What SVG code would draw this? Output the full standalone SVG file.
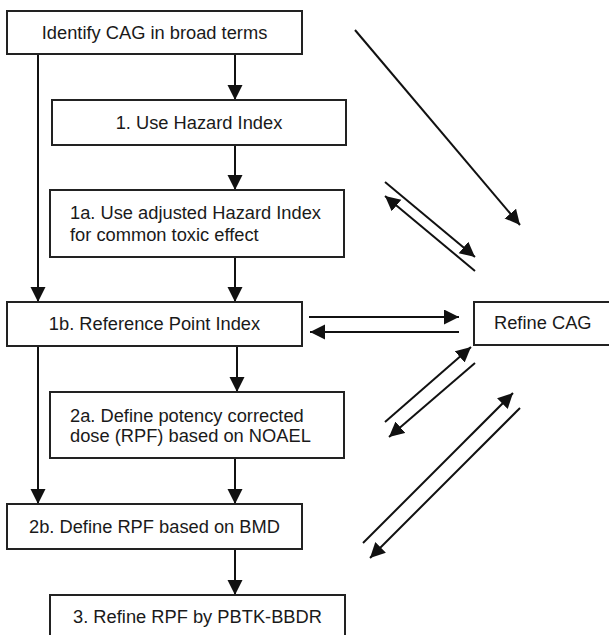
<svg xmlns="http://www.w3.org/2000/svg" width="609" height="635" viewBox="0 0 609 635">
<style>
.box{fill:#fff;stroke:#222;stroke-width:2}
.t{font-family:"Liberation Sans",Arial,sans-serif;font-size:18.3px;fill:#1a1a1a}
.c{text-anchor:middle}
.ln{stroke:#111;stroke-width:2;fill:none;marker-end:url(#ah)}
</style>
<defs>
<marker id="ah" markerUnits="userSpaceOnUse" markerWidth="17" markerHeight="17" refX="15" refY="7.5" orient="auto">
<path d="M0,0 L15,7.5 L0,15 z" fill="#111"/>
</marker>
</defs>
<rect width="609" height="635" fill="#fff"/>
<g id="connectors">
<path class="ln" d="M235,54 L235,100"/>
<path class="ln" d="M235,145 L235,190"/>
<path class="ln" d="M38,54 L38,302"/>
<path class="ln" d="M235,257 L235,302"/>
<path class="ln" d="M38,346 L38,504"/>
<path class="ln" d="M237,346 L237,392"/>
<path class="ln" d="M235,458 L235,504"/>
<path class="ln" d="M235,549 L235,595"/>
<path class="ln" d="M355,30 L520,225"/>
<path class="ln" d="M385,182 L475,257"/>
<path class="ln" d="M475,271 L385,196"/>
<path class="ln" d="M309,317 L459,317"/>
<path class="ln" d="M459,332 L310,332"/>
<path class="ln" d="M385,422 L471,347"/>
<path class="ln" d="M475,363 L389,437"/>
<path class="ln" d="M363,543 L513,393"/>
<path class="ln" d="M520,408 L370,558"/>
</g>
<g id="n0"><rect class="box" x="7" y="11" width="295" height="43"/><text class="t c" x="154.5" y="39">Identify CAG in broad terms</text></g>
<g id="n1"><rect class="box" x="52" y="100" width="294" height="45"/><text class="t c" x="199" y="129">1. Use Hazard Index</text></g>
<g id="n1a"><rect class="box" x="50" y="190" width="294" height="67"/><text class="t" x="70" y="219">1a. Use adjusted Hazard Index</text><text class="t" x="70" y="240.5">for common toxic effect</text></g>
<g id="n1b"><rect class="box" x="7" y="302" width="295" height="44"/><text class="t c" x="154.5" y="330">1b. Reference Point Index</text></g>
<g id="n2a"><rect class="box" x="50" y="392" width="294" height="66"/><text class="t" x="70" y="421.5">2a. Define potency corrected</text><text class="t" x="70" y="442">dose (RPF) based on NOAEL</text></g>
<g id="n2b"><rect class="box" x="7" y="504" width="295" height="45"/><text class="t c" x="154.5" y="533">2b. Define RPF based on BMD</text></g>
<g id="n3"><rect class="box" x="50" y="595" width="295" height="60"/><text class="t c" x="197.5" y="623">3. Refine RPF by PBTK-BBDR</text></g>
<g id="nr"><rect class="box" x="474" y="302" width="150" height="43"/><text class="t" x="494" y="329">Refine CAG</text></g>
</svg>
